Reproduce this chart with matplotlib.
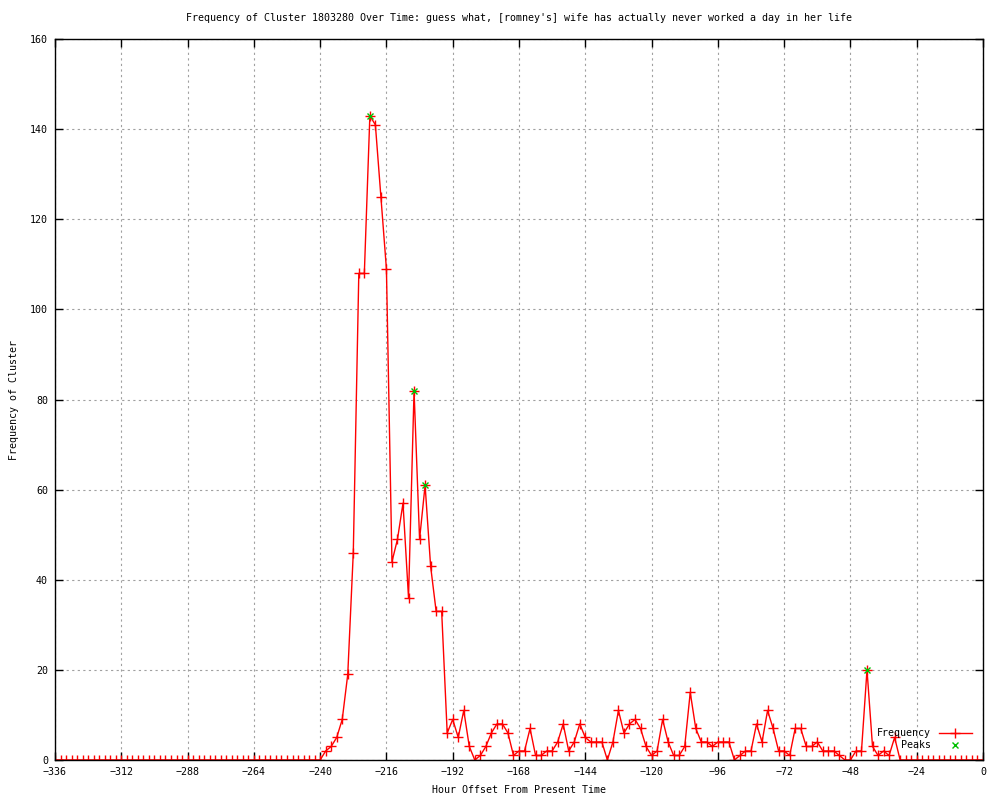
import numpy as np
import matplotlib
matplotlib.use("Agg")
import matplotlib.pyplot as plt

plt.rcParams['font.family'] = ['DejaVu Sans Mono']
plt.rcParams['font.size'] = 7.2

# hourly offsets, sampled every 2 hours
hours = np.arange(-336, 1, 2)

# frequency values from -238 to -30 (everything else is zero)
active = [2, 3, 5, 9, 19, 46, 108, 108, 143, 141, 125, 109, 44, 49, 57, 36,
          82, 49, 61, 43, 33, 33, 6, 9, 5, 11, 3, 0, 1, 3, 6, 8, 8, 6, 1, 2,
          2, 7, 1, 1, 2, 2, 4, 8, 2, 4, 8, 5, 4, 4, 4, 0, 4, 11, 6, 8, 9, 7,
          3, 1, 2, 9, 4, 1, 1, 3, 15, 7, 4, 4, 3, 4, 4, 4, 0, 1, 2, 2, 8, 4,
          11, 7, 2, 2, 1, 7, 7, 3, 3, 4, 2, 2, 2, 1, 0, 0, 2, 2, 20, 3, 1, 2,
          1, 5, 0]
freq = np.zeros(len(hours))
start = list(hours).index(-238)
freq[start:start + len(active)] = active

peak_hours = [-222, -206, -202, -42]
peak_vals = [143, 82, 61, 20]

fig = plt.figure(figsize=(10, 8), dpi=100)
ax = fig.add_axes([0.055, 0.05, 0.928, 0.901])

ax.plot(hours, freq, color='red', lw=1, marker='+', ms=7, mew=1,
        label='Frequency', zorder=2)
ax.plot(peak_hours, peak_vals, ls='none', color='#00c000', marker='x',
        ms=5, mew=1, label='Peaks', zorder=3)

ax.set_xlim(-336, 0)
ax.set_ylim(0, 160)
ax.set_xticks(np.arange(-336, 1, 24))
ax.set_yticks(np.arange(0, 161, 20))
ax.grid(True, color='#a0a0a0', ls=(0, (2, 3)), lw=0.8)
ax.tick_params(direction='in', top=True, right=True, length=6, width=1,
               pad=5, labelsize=7.2)
for s in ax.spines.values():
    s.set_linewidth(1)

ax.set_title("Frequency of Cluster 1803280 Over Time: guess what, "
             "[romney's] wife has actually never worked a day in her life",
             fontsize=7.2, pad=13)
ax.set_xlabel('Hour Offset From Present Time', labelpad=6)
ax.set_ylabel('Frequency of Cluster', labelpad=8)

ax.legend(loc='lower right', frameon=False,
          markerfirst=False, handlelength=3.3, borderaxespad=0,
          labelspacing=0.2, bbox_to_anchor=(0.992, 0.008))

fig.savefig('out.png', dpi=100)
